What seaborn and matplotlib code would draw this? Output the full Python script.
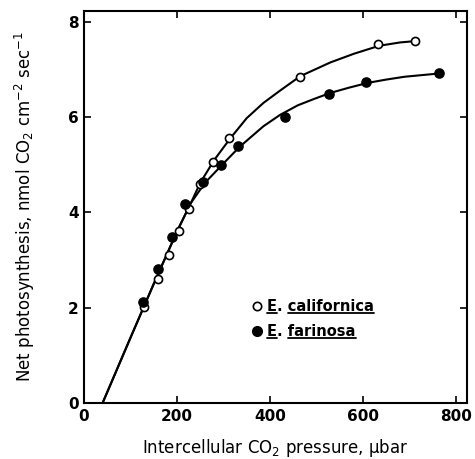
import matplotlib
matplotlib.use("Agg")
import matplotlib.pyplot as plt
import seaborn as sns
import pandas as pd
from matplotlib.lines import Line2D

# Measured points
cal_x = [130, 159, 182, 204, 225, 250, 278, 313, 465, 633, 712]
cal_y = [2.02, 2.61, 3.10, 3.61, 4.07, 4.60, 5.06, 5.56, 6.84, 7.53, 7.60]
far_x = [128, 159, 189, 218, 257, 295, 332, 433, 527, 606, 764]
far_y = [2.12, 2.82, 3.49, 4.17, 4.63, 5.00, 5.40, 6.01, 6.49, 6.74, 6.92]

# Fitted curves
cal_curve_x = [40, 100, 150, 200, 230, 250, 280, 315, 350, 386, 422, 465, 530, 580, 635, 680, 715]
cal_curve_y = [0, 1.37, 2.5, 3.6, 4.2, 4.62, 5.1, 5.56, 5.98, 6.30, 6.56, 6.86, 7.15, 7.33, 7.5, 7.57, 7.6]
far_curve_x = [40, 100, 150, 200, 230, 260, 300, 335, 386, 422, 460, 494, 530, 570, 610, 650, 690, 766]
far_curve_y = [0, 1.37, 2.5, 3.6, 4.2, 4.62, 5.03, 5.38, 5.81, 6.05, 6.25, 6.38, 6.51, 6.62, 6.72, 6.79, 6.85, 6.92]

legend_labels = ["E. californica", "E. farinosa"]
x_ticks = [0, 200, 400, 600, 800]
y_ticks = [0, 2, 4, 6, 8]

sns.set_style("ticks")
plt.rcParams['font.family'] = ['DejaVu Sans']
plt.rcParams['text.color'] = 'black'
plt.rcParams['axes.labelcolor'] = 'black'
plt.rcParams['xtick.color'] = 'black'
plt.rcParams['ytick.color'] = 'black'

fig = plt.figure(figsize=(4.75, 4.59), dpi=100)
ax = fig.add_axes([84/475, 56/459, (467-84)/475, (403-11)/459])

cal_curve = pd.DataFrame({"x": cal_curve_x, "y": cal_curve_y})
far_curve = pd.DataFrame({"x": far_curve_x, "y": far_curve_y})
sns.lineplot(data=cal_curve, x="x", y="y", ax=ax, color="black", lw=1.5, sort=False)
sns.lineplot(data=far_curve, x="x", y="y", ax=ax, color="black", lw=1.5, sort=False)

cal = pd.DataFrame({"x": cal_x, "y": cal_y})
far = pd.DataFrame({"x": far_x, "y": far_y})
sns.scatterplot(data=cal, x="x", y="y", ax=ax, marker="o", s=34,
                facecolor="white", edgecolor="black", linewidth=1.2, zorder=4)
sns.scatterplot(data=far, x="x", y="y", ax=ax, marker="o", s=44,
                color="black", edgecolor="black", linewidth=1.0, zorder=5)

ax.set_xlim(0, 824)
ax.set_ylim(0, 8.23)
ax.set_xticks(x_ticks)
ax.set_yticks(y_ticks)
ax.tick_params(direction="in", length=5, width=1.2, top=True, right=True,
               labelsize=11, pad=4, colors="black")
for lab in ax.get_xticklabels() + ax.get_yticklabels():
    lab.set_fontweight("bold")
for sp in ax.spines.values():
    sp.set_linewidth(1.5)
    sp.set_color("black")

ax.set_xlabel("Intercellular CO$_2$ pressure, \u03bcbar", fontsize=12, labelpad=10)
ax.set_ylabel(r"Net photosynthesis, nmol CO$_2$ cm$^{-2}$ sec$^{-1}$", fontsize=12, labelpad=22)

handles = [
    Line2D([], [], marker="o", ls="none", markerfacecolor="white",
           markeredgecolor="black", markersize=6, markeredgewidth=1.2),
    Line2D([], [], marker="o", ls="none", markerfacecolor="black",
           markeredgecolor="black", markersize=7),
]
leg = ax.legend(handles, legend_labels, frameon=False, loc="upper left",
                bbox_to_anchor=((244 - 84) / 383, (403 - 293) / 392),
                handletextpad=0.2, labelspacing=0.7, fontsize=10.5,
                handlelength=1.0, borderaxespad=0)
for t in leg.get_texts():
    t.set_fontweight("bold")
    t.set_color("black")

# underline the legend names
fig.canvas.draw()
renderer = fig.canvas.get_renderer()
W, H = fig.bbox.width, fig.bbox.height
for t in leg.get_texts():
    bb = t.get_window_extent(renderer)
    prop = t.get_fontproperties()
    wE, _, _ = renderer.get_text_width_height_descent("E", prop, ismath=False)
    wEd, _, _ = renderer.get_text_width_height_descent("E. ", prop, ismath=False)
    y = bb.y0 + 1.0
    for x0, x1 in [(bb.x0, bb.x0 + wE), (bb.x0 + wEd, bb.x1)]:
        fig.add_artist(Line2D([x0 / W, x1 / W], [y / H, y / H],
                              transform=fig.transFigure, color="black", lw=1.3))

fig.savefig("out.png", dpi=100)
